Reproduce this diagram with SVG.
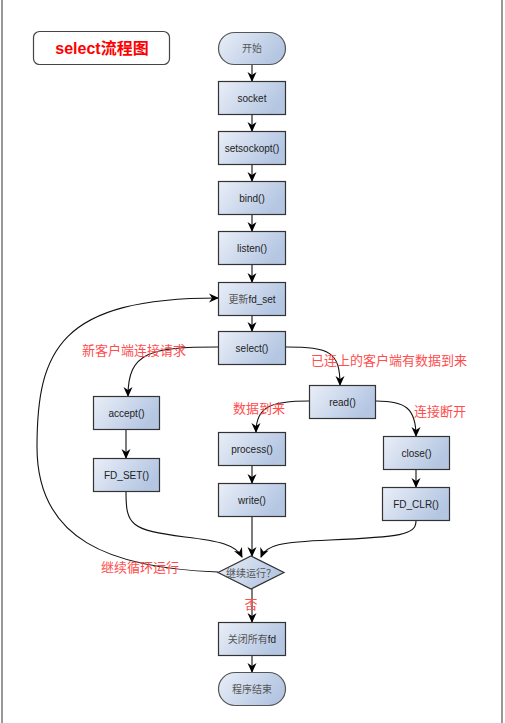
<svg xmlns="http://www.w3.org/2000/svg" width="505" height="723" viewBox="0 0 505 723">
<defs>
<linearGradient id="g" x1="0" y1="0" x2="1" y2="0.4">
<stop offset="0" stop-color="#eaeff8"/>
<stop offset="1" stop-color="#b4c6e2"/>
</linearGradient>
<marker id="ah" markerWidth="10" markerHeight="10" viewBox="0 0 10 10" refX="9" refY="5" orient="auto" markerUnits="userSpaceOnUse">
<path d="M0,0.5 L10,5 L0,9.5 L3,5 Z" fill="#000"/>
</marker>
<style>
.n{fill:url(#g);stroke:#333;stroke-width:1.2}
.t{fill:url(#g);stroke:#555;stroke-width:1.2}
.l{font-family:"Liberation Sans","Noto Sans CJK SC",sans-serif;font-size:10px;fill:#222;text-anchor:middle;dominant-baseline:central}
.g{fill:#555}
.r{font-family:"Noto Sans CJK SC","Liberation Sans",sans-serif;font-size:13px;fill:#ff4d4d;text-anchor:middle;dominant-baseline:central}
.c path,.c line{fill:none;stroke:#111;stroke-width:1.1;marker-end:url(#ah)}
</style>
</defs>
<rect width="505" height="723" fill="#fff"/>
<line x1="2" y1="0" x2="2" y2="723" stroke="#999" stroke-width="2"/>
<line x1="502" y1="0" x2="502" y2="723" stroke="#999" stroke-width="2"/>

<g id="title">
<rect x="33.5" y="31.5" width="136" height="33" rx="6" fill="#fff" stroke="#444" stroke-width="1.2"/>
<text x="102" y="48.5" font-family="Liberation Sans,Noto Sans CJK SC,sans-serif" font-size="16" font-weight="bold" fill="#f00" text-anchor="middle" dominant-baseline="central">select流程图</text>
</g>

<g class="c" id="connectors">
<line x1="252" y1="64" x2="252" y2="81"/>
<line x1="252" y1="115" x2="252" y2="131"/>
<line x1="252" y1="165" x2="252" y2="181"/>
<line x1="252" y1="215" x2="252" y2="231"/>
<line x1="252" y1="265" x2="252" y2="282"/>
<line x1="252" y1="315" x2="252" y2="331"/>
<path d="M218,347 C150,347 128,352 128,396"/>
<path d="M286,347 C330,347 340,352 340,385"/>
<path d="M309,401 C272,401 256,406 256,432"/>
<path d="M376,401 C405,401 416,408 416,436"/>
<line x1="126" y1="429" x2="126" y2="458"/>
<line x1="252" y1="466" x2="252" y2="483"/>
<line x1="416" y1="470" x2="416" y2="487"/>
<path d="M126,492 C126,525 130,530 185,537 C220,541 236,545 242,557"/>
<line x1="252" y1="517" x2="252" y2="556"/>
<path d="M416,521 C416,535 400,537 330,540 C280,542 266,545 261,557"/>
<path d="M218,572 C110,568 37,540 37,447 C37,350 60,298 218,298"/>
<line x1="252" y1="589" x2="252" y2="622"/>
<line x1="252" y1="656" x2="252" y2="672"/>
</g>

<g id="start"><rect class="t" x="218.5" y="32.5" width="67" height="32" rx="16"/><text class="l g" x="252" y="48.5">开始</text></g>
<g id="socket"><rect class="n" x="218.5" y="81.5" width="67" height="33"/><text class="l" x="252" y="98">socket</text></g>
<g id="setsockopt"><rect class="n" x="218.5" y="131.5" width="67" height="33"/><text class="l" x="252" y="148">setsockopt()</text></g>
<g id="bind"><rect class="n" x="218.5" y="181.5" width="67" height="33"/><text class="l" x="252" y="198">bind()</text></g>
<g id="listen"><rect class="n" x="218.5" y="231.5" width="67" height="33"/><text class="l" x="252" y="248">listen()</text></g>
<g id="fdset"><rect class="n" x="218.5" y="282.5" width="67" height="33"/><text class="l" x="252" y="299"><tspan class="g">更新</tspan>fd_set</text></g>
<g id="select"><rect class="n" x="218.5" y="331.5" width="67" height="33"/><text class="l" x="252" y="348">select()</text></g>
<g id="read"><rect class="n" x="309.5" y="385.5" width="66" height="33"/><text class="l" x="342.5" y="402">read()</text></g>
<g id="accept"><rect class="n" x="93.5" y="396.5" width="66" height="33"/><text class="l" x="126.5" y="413">accept()</text></g>
<g id="fd_set2"><rect class="n" x="93.5" y="458.5" width="66" height="33"/><text class="l" x="126.5" y="475">FD_SET()</text></g>
<g id="process"><rect class="n" x="218.5" y="432.5" width="67" height="33"/><text class="l" x="252" y="449">process()</text></g>
<g id="write"><rect class="n" x="218.5" y="483.5" width="67" height="33"/><text class="l" x="252" y="500">write()</text></g>
<g id="close"><rect class="n" x="383.5" y="436.5" width="66" height="33"/><text class="l" x="416.5" y="453">close()</text></g>
<g id="fd_clr"><rect class="n" x="382.5" y="487.5" width="67" height="33"/><text class="l" x="416" y="504">FD_CLR()</text></g>
<g id="decision"><polygon class="n" points="218,572.5 251,556 284,572.5 251,589"/><text class="l g" x="251" y="573" font-size="9.5">继续运行？</text></g>
<g id="closeall"><rect class="n" x="218.5" y="622.5" width="67" height="33"/><text class="l" x="252" y="639"><tspan class="g">关闭所有</tspan>fd</text></g>
<g id="end"><rect class="t" x="218.5" y="672.5" width="67" height="33" rx="16.5"/><text class="l g" x="252" y="689">程序结束</text></g>

<g id="labels">
<text class="r" x="134" y="349">新客户端连接请求</text>
<text class="r" x="389" y="359">已连上的客户端有数据到来</text>
<text class="r" x="259" y="407">数据到来</text>
<text class="r" x="440" y="410">连接断开</text>
<text class="r" x="140" y="566">继续循环运行</text>
<text class="r" x="251" y="603">否</text>
</g>
</svg>
